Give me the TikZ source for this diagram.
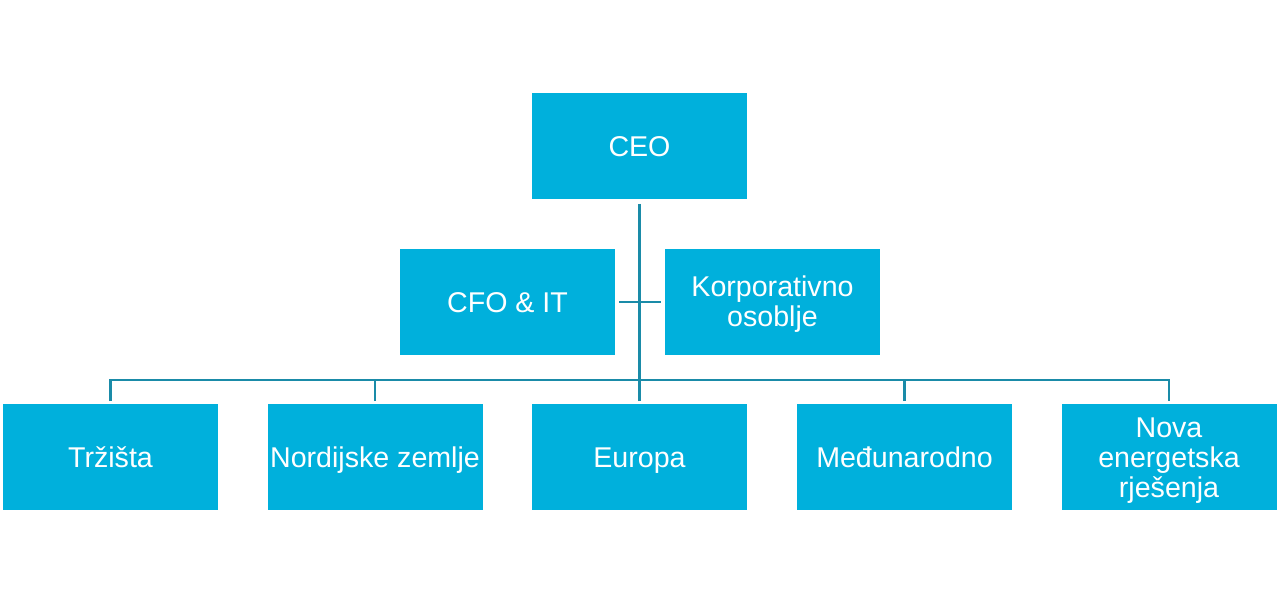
\documentclass[tikz,border=0pt]{standalone}
\usepackage{fontspec}
\setmainfont{Liberation Sans}
\usepackage{xcolor}
\usepackage{tikz}
\usetikzlibrary{calc,positioning}
\definecolor{boxblue}{HTML}{00B0DC}
\definecolor{linkteal}{HTML}{1A8BA8}
\newcommand{\capstrut}{\rule[-2.4pt]{0pt}{15pt}}
\newcommand{\unitfont}{\fontsize{14.3}{15}\selectfont\lineskiplimit=-6pt\relax}
\tikzset{
  unit/.style={fill=boxblue,draw=none,text=white,align=center,inner sep=1pt,
    minimum width=107.5pt,minimum height=53pt,font=\unitfont},
  conn/.style={linkteal,line width=1.4pt}
}

\begin{document}
\begin{tikzpicture}[x=0.5pt,y=-0.5pt]
\useasboundingbox (0,0) rectangle (1280,603);
\node[unit] (ceo)  at (639.5,146.5) {\capstrut CEO};
\node[unit] (cfo)  at (507.5,302) {\capstrut CFO \& IT};
\node[unit] (korp) at (772.5,302) {\capstrut Korporativno\\\capstrut osoblje};
\node[unit] (trz)  at (110.5,457.5) {\capstrut Tržišta};
\node[unit] (nord) at (375,457.5) {\capstrut Nordijske zemlje};
\node[unit] (eur)  at (639.5,457.5) {\capstrut Europa};
\node[unit] (med)  at (904.5,457.5) {\capstrut Međunarodno};
\node[unit] (nov)  at (1169,457.5) {\capstrut Nova\\\capstrut energetska\\\capstrut rješenja};
\coordinate (bar) at (640,380);
\draw[conn] ([yshift=-2pt]ceo.south) -- (ceo.south |- bar);
\draw[conn] ([xshift=2pt]cfo.east) -- ([xshift=-2pt]korp.west);
\draw[conn] ([yshift=1.5pt]trz.north) |- (bar) -| ([yshift=1.5pt]nov.north);
\foreach \n in {nord,eur,med}
  \draw[conn] ([yshift=1.5pt]\n.north) -- (\n.north |- bar);
\end{tikzpicture}
\end{document}
